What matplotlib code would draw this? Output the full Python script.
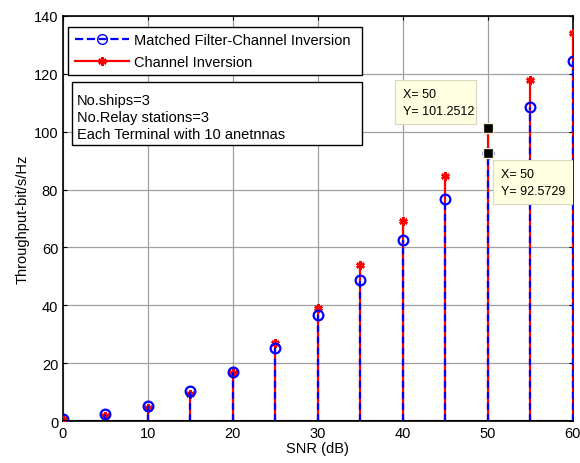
import matplotlib.pyplot as plt
from matplotlib.lines import Line2D
from matplotlib.patches import Rectangle

plt.rcParams['font.family'] = ['Liberation Sans', 'DejaVu Sans']

# SNR values and throughput
snr = [0, 5, 10, 15, 20, 25, 30, 35, 40, 45, 50, 55, 60]
mf_ci = [0.8, 2.5, 5.2, 10.4, 16.9, 25.2, 36.6, 48.7, 62.7, 76.9, 92.5729, 108.6, 124.3]
ci = [0.6, 1.8, 4.5, 9.3, 16.6, 27.0, 39.2, 53.8, 69.2, 84.8, 101.2512, 117.8, 134.2]

fig = plt.figure(figsize=(5.8, 4.64), dpi=100)
ax = fig.add_axes([0.1086, 0.0905, 0.879, 0.873])

# red stems (Channel Inversion)
ax.vlines(snr, 0, ci, colors='red', linewidth=1.6, zorder=3)
ax.plot(snr, ci, linestyle='none', marker=(6, 2, 0), markersize=6,
        markeredgecolor='red', markeredgewidth=1.8, color='red', zorder=4)

# blue stems (Matched Filter-Channel Inversion)
ax.vlines(snr, 0, mf_ci, colors='blue', linewidth=1.6, linestyles=(0, (3, 2)), zorder=5)
ax.plot(snr, mf_ci, linestyle='none', marker='o', markersize=7, markerfacecolor='none',
        markeredgecolor='blue', markeredgewidth=1.6, zorder=6)

ax.axhline(0, color='black', linewidth=1.5, zorder=7)

ax.set_xlim(0, 60)
ax.set_ylim(0, 140)
ax.set_xticks(range(0, 61, 10))
ax.set_yticks(range(0, 141, 20))
ax.grid(True, color='#a0a0a0', linewidth=0.9)
ax.set_axisbelow(True)
ax.tick_params(direction='in', labelsize=10.5, top=True, right=True, length=3)
for s in ax.spines.values():
    s.set_linewidth(1.2)
ax.set_xlabel('SNR (dB)', fontsize=10.5, labelpad=1)
ax.set_ylabel('Throughput-bit/s/Hz', fontsize=10.5, labelpad=3)

handles = [
    Line2D([], [], color='blue', linestyle='--', linewidth=1.6, marker='o',
           markerfacecolor='none', markeredgecolor='blue', markersize=7),
    Line2D([], [], color='red', linestyle='-', linewidth=1.6, marker=(6, 2, 0),
           markeredgecolor='red', markeredgewidth=1.8, markersize=6),
]
leg = ax.legend(handles, ['Matched Filter-Channel Inversion', 'Channel Inversion'],
                loc='upper left', bbox_to_anchor=(0.0098, 0.849, 0.576, 0.124),
                mode='expand', fontsize=10.5,
                frameon=True, fancybox=False, edgecolor='black', framealpha=1,
                borderpad=0.45, labelspacing=0.5, handlelength=3.7, handletextpad=0.4,
                borderaxespad=0)
leg.get_frame().set_linewidth(1.0)
leg.set_zorder(10)

# parameter box
ax.add_patch(Rectangle((0.0176, 0.681), 0.568, 0.156, transform=ax.transAxes,
                       facecolor='white', edgecolor='black', linewidth=1.0, zorder=10))
ax.text(0.027, 0.81, 'No.ships=3\nNo.Relay stations=3\nEach Terminal with 10 anetnnas',
        transform=ax.transAxes, fontsize=10.5, va='top', ha='left', linespacing=1.3,
        zorder=11)

# data tips
ax.plot([snr[10]], [ci[10]], 's', color='black', markersize=7,
        markeredgecolor='#f5f0c8', markeredgewidth=1, zorder=9)
ax.plot([snr[10]], [mf_ci[10]], 's', color='black', markersize=7,
        markeredgecolor='#f5f0c8', markeredgewidth=1, zorder=9)
for x0, y0, val in [(39.06, 102.7, ci[10]), (50.6, 75.0, mf_ci[10])]:
    ax.add_patch(Rectangle((x0, y0), 9.6, 15.3, facecolor='#ffffe1', edgecolor='#d8d8c0',
                           linewidth=0.8, zorder=11))
    ax.text(x0 + 1.0, y0 + 7.4, 'X= 50\nY= %.4f' % val, fontsize=9, ha='left',
            va='center', linespacing=1.55, zorder=12)

fig.savefig('out.png', dpi=100)
